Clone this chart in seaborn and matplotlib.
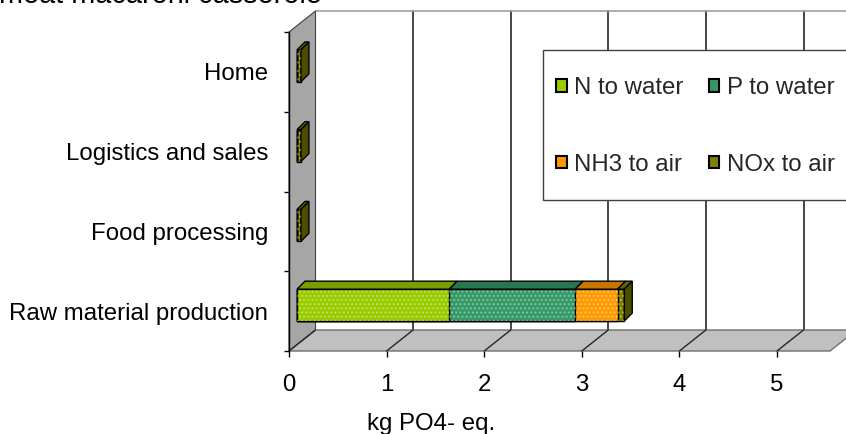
import numpy as np
import pandas as pd
import matplotlib
matplotlib.use("Agg")
import matplotlib.pyplot as plt
from matplotlib.patches import Polygon, Rectangle, Patch
from matplotlib.lines import Line2D
from matplotlib.transforms import IdentityTransform, offset_copy
import seaborn as sns

# ---- data -------------------------------------------------------------
stages = ["Home", "Logistics and sales", "Food processing", "Raw material production"]
components = ["N to water", "P to water", "NH3 to air", "NOx to air"]
n_to_water = [0.0, 0.0, 0.0, 1.56]
p_to_water = [0.0, 0.0, 0.0, 1.29]
nh3_to_air = [0.0, 0.0, 0.0, 0.435]
nox_to_air = [0.04, 0.04, 0.04, 0.068]
x_ticks = [0, 1, 2, 3, 4, 5]
title_text = "meat macaroni casserole"
x_label = "kg PO4- eq."

# ---- style ------------------------------------------------------------
palette = ["#99CC00", "#339966", "#FF9900", "#808000"]
sns.set_theme(style="white")
plt.rcParams["font.family"] = ["Liberation Sans", "DejaVu Sans"]
FS = 17.3

W, H = 846, 434
fig = plt.figure(figsize=(W / 100, H / 100), dpi=100)
fig.patch.set_facecolor("white")


def fx(px):
    return px / W


def fy(py):
    return 1 - py / H


# front plane of the 3-D box
ax = fig.add_axes([fx(289), fy(351), (830 - 289) / W, (351 - 32) / H])
ax.set_facecolor("none")
XMAX = (830 - 289) / 97.6

# depth offsets (pixels right, up)
BACK = (26.5, 21.0)
BAR_FRONT = (8.0, 6.0)
BAR_BACK = (16.0, 14.0)
BAR_W = 0.4

df = pd.DataFrame({
    "stage": stages,
    "N to water": n_to_water,
    "P to water": p_to_water,
    "NH3 to air": nh3_to_air,
    "NOx to air": nox_to_air,
})
long = df.melt(id_vars="stage", var_name="component", value_name="value")
long["end"] = long.groupby("stage")["value"].cumsum()
long["start"] = long["end"] - long["value"]

# stacked front faces: draw cumulative totals from the outermost segment inwards
for comp, col in reversed(list(zip(components, palette))):
    sub = long[long["component"] == comp]
    sns.barplot(data=sub, x="end", y="stage", order=stages, orient="h",
                color=col, saturation=1, width=BAR_W, edgecolor="black",
                linewidth=1.0, errorbar=None, ax=ax, zorder=5)

ax.set_xlim(0, XMAX)
ax.set_ylim(len(stages) - 0.5, -0.5)

bar_trans = offset_copy(ax.transData, fig=fig, x=BAR_FRONT[0], y=BAR_FRONT[1], units="dots")
for p in ax.patches:
    p.set_transform(bar_trans)
    p.set_clip_on(False)
    p.set_zorder(5)


def P(x, y, off=(0.0, 0.0)):
    X, Y = ax.transData.transform((x, y))
    return (X + off[0], Y + off[1])


def shade(col, f):
    r, g, b = matplotlib.colors.to_rgb(col)
    return (r * f, g * f, b * f)


def add_poly(pts, **kw):
    poly = Polygon(pts, closed=True, transform=IdentityTransform(), clip_on=False, **kw)
    ax.add_patch(poly)
    return poly


def add_line(p0, p1, **kw):
    ln = Line2D([p0[0], p1[0]], [p0[1], p1[1]], transform=IdentityTransform(), clip_on=False, **kw)
    ax.add_line(ln)
    return ln


y_bot, y_top = len(stages) - 0.5, -0.5

# back wall gridlines
for xt in x_ticks[1:]:
    add_line(P(xt, y_bot, BACK), P(xt, y_top, BACK), color="#262626", lw=1.2, zorder=1)
# back wall top edge
add_line(P(0, y_top, BACK), P(XMAX, y_top, BACK), color="#a0a0a0", lw=1.2, zorder=1)
# side wall
add_poly([P(0, y_top), P(0, y_top, BACK), P(0, y_bot, BACK), P(0, y_bot)],
         facecolor="#a6a6a6", edgecolor="#404040", lw=0.8, zorder=2)
# floor
add_poly([P(0, y_bot), P(XMAX, y_bot), P(XMAX, y_bot, BACK), P(0, y_bot, BACK)],
         facecolor="#c0c0c0", edgecolor="#6e6e6e", lw=1.0, zorder=2)
for xt in x_ticks:
    add_line(P(xt, y_bot), P(xt, y_bot, BACK), color="#262626", lw=1.0, zorder=3)

# 3-D top and side faces of the bars, plus the fine dot texture
for i, stage in enumerate(stages):
    rows = long[long["stage"] == stage]
    yt = i - BAR_W / 2
    yb = i + BAR_W / 2
    last = None
    for (_, r), col in zip(rows.iterrows(), palette):
        if r["value"] <= 0:
            continue
        x0, x1 = r["start"], r["end"]
        add_poly([P(x0, yt, BAR_FRONT), P(x1, yt, BAR_FRONT), P(x1, yt, BAR_BACK), P(x0, yt, BAR_BACK)],
                 facecolor=shade(col, 0.78), edgecolor="black", lw=1.0, zorder=6)
        tex = Rectangle((x0, yt), x1 - x0, BAR_W, transform=bar_trans, facecolor="none",
                        edgecolor=(1, 1, 1, 0.35), lw=0, hatch="....", zorder=7, clip_on=False)
        ax.add_patch(tex)
        last = (x1, col)
    if last is not None:
        x1, col = last
        add_poly([P(x1, yt, BAR_FRONT), P(x1, yb, BAR_FRONT), P(x1, yb, BAR_BACK), P(x1, yt, BAR_BACK)],
                 facecolor=shade(col, 0.6), edgecolor="black", lw=1.0, zorder=6)

# ---- axes decoration --------------------------------------------------
for side in ["top", "right", "bottom"]:
    ax.spines[side].set_visible(False)
ax.spines["left"].set_color("black")
ax.spines["left"].set_linewidth(1.0)
ax.spines["left"].set_zorder(8)

ax.set_xticks(x_ticks)
ax.set_xticklabels([str(t) for t in x_ticks], fontsize=FS, color="black")
ax.tick_params(axis="x", length=4.3, width=1.0, color="black", direction="out", pad=12, bottom=True)
ax.set_yticks(range(len(stages)))
ax.set_yticklabels(stages, fontsize=FS, color="black")
ax.set_yticks(np.arange(-0.5, len(stages), 1.0), minor=True)
ax.tick_params(axis="y", which="major", length=0, pad=15)
ax.tick_params(axis="y", which="minor", length=3.6, width=1.0, color="black", direction="out", left=True)
ax.set_xlabel("")
ax.set_ylabel("")
ax.grid(False)

fig.text(fx(367), fy(430), x_label, fontsize=FS, ha="left", va="baseline", color="black")
fig.text(fx(-1), fy(3), title_text, fontsize=20.8, ha="left", va="baseline", color="black")

# legend (row-wise order: N, P / NH3, NOx)
frame = Rectangle((fx(543), fy(200)), fx(860) - fx(543), fy(50) - fy(200), transform=fig.transFigure,
                  facecolor="white", edgecolor="#404040", lw=1.0, zorder=9)
fig.add_artist(frame)
order = [0, 2, 1, 3]
handles = [Patch(facecolor=palette[k], edgecolor="black", linewidth=1.5) for k in order]
labels = [components[k] for k in order]
leg = fig.legend(handles, labels, ncol=2, loc="center left",
                 bbox_to_anchor=(fx(556), fy(126.5)), frameon=False, fontsize=FS,
                 handlelength=0.45, handleheight=0.45, handletextpad=0.3,
                 columnspacing=1.05, labelspacing=2.25, borderpad=0, borderaxespad=0)
leg.set_zorder(10)

fig.savefig("out.png", dpi=100)
